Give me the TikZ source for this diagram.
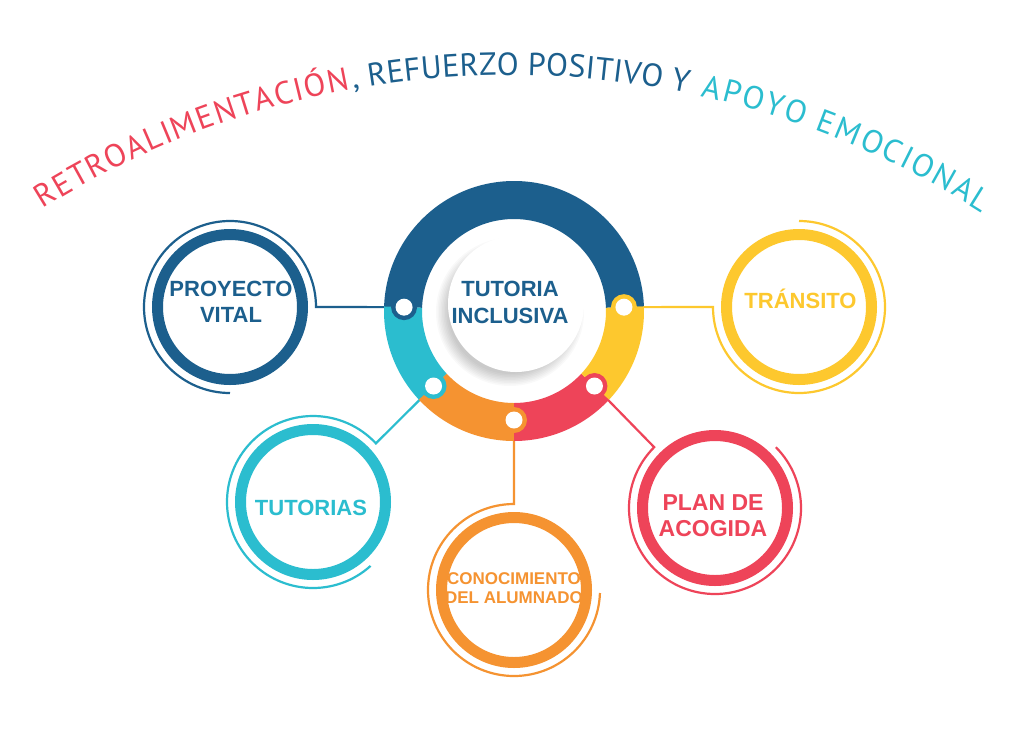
\documentclass[tikz,border=0pt]{standalone}
\usepackage{fontspec}
\setmainfont{Liberation Sans}
\newfontfamily\titlefont{PT Sans}
\newcommand\titlesize{\titlefont\fontsize{32}{32}\selectfont}
\usetikzlibrary{calc,decorations.text}
\definecolor{cblue}{HTML}{1C5F8D}
\definecolor{cteal}{HTML}{2BBDCF}
\definecolor{corange}{HTML}{F59331}
\definecolor{cred}{HTML}{EE4459}
\definecolor{cyellow}{HTML}{FDC82E}
\tikzset{
  satring/.style={circle, draw=#1, line width=11pt, minimum size=145pt, inner sep=0pt, fill=white},
  sattext/.style={text=#1, font=\bfseries\fontsize{22}{26}\selectfont, align=center, inner sep=0pt},
  link/.style={draw=#1, line width=2.2pt},
  knob/.style={circle, fill=#1, minimum size=26pt, inner sep=0pt},
  hole/.style={circle, fill=white, minimum size=17pt, inner sep=0pt},
  arctext/.style={decorate, decoration={text along path, text={|\titlesize|#1}, text align=fit to path}},
}
\begin{document}
\begin{tikzpicture}[x=1pt,y=1pt]
\fill[white] (0,0) rectangle (1023,-745);
\path[use as bounding box] (0,0) rectangle (1023,-745);

% coordinates
\coordinate (rc) at (514,-311);
\coordinate (tc) at (509,-955);
\coordinate (pv) at (230,-307);
\coordinate (tr) at (799,-307);
\coordinate (tu) at (313,-502);
\coordinate (co) at (514,-590);
\coordinate (pa) at (715,-508);
\coordinate (k1) at ($(rc)+(178:110)$);
\coordinate (k2) at ($(rc)+(223:110)$);
\coordinate (k3) at ($(rc)+(270:109)$);
\coordinate (k4) at ($(rc)+(317:110)$);
\coordinate (k5) at ($(rc)+(2:110)$);

% title along arc
\begin{scope}
\titlesize
\path[arctext={RETROALIMENTACIÓN}, decoration={text color=cred}] ($(tc)+(122:880)$) arc[start angle=122, end angle=100.4, radius=880];
\path[arctext={, REFUERZO POSITIVO Y}, decoration={text color=cblue}] ($(tc)+(100.2:880)$) arc[start angle=100.2, end angle=78.3, radius=880];
\path[arctext={APOYO EMOCIONAL}, decoration={text color=cteal}] ($(tc)+(77.4:880)$) arc[start angle=77.4, end angle=57.5, radius=880];
\end{scope}

% connectors with thin outer arcs
\draw[link=cblue] (k1) -- ($(pv)+(0:86)$) arc[start angle=0, end angle=270, radius=86];
\draw[link=cyellow] (k5) -- ($(tr)+(180:86)$) arc[start angle=180, end angle=450, radius=86];
\draw[link=cteal] (k2) -- ($(tu)+(43:86)$) arc[start angle=43, end angle=312, radius=86];
\draw[link=corange] (k3) -- ($(co)+(90:86)$) arc[start angle=90, end angle=358, radius=86];
\draw[link=cred] (k4) -- ($(pa)+(135:86)$) arc[start angle=135, end angle=405, radius=86];

% central ring
\begin{scope}[shift={(rc)}]
\fill[cblue] (2:130) arc[start angle=2, end angle=178, radius=130] -- (178:92) arc[start angle=178, end angle=2, radius=92] -- cycle;
\fill[cteal] (178:130) arc[start angle=178, end angle=223, radius=130] -- (223:92) arc[start angle=223, end angle=178, radius=92] -- cycle;
\fill[corange] (223:130) arc[start angle=223, end angle=270, radius=130] -- (270:92) arc[start angle=270, end angle=223, radius=92] -- cycle;
\fill[cred] (270:130) arc[start angle=270, end angle=317, radius=130] -- (317:92) arc[start angle=317, end angle=270, radius=92] -- cycle;
\fill[cyellow] (317:130) arc[start angle=317, end angle=362, radius=130] -- (362:92) arc[start angle=362, end angle=317, radius=92] -- cycle;
\end{scope}
\node[knob=cblue] (b1) at (k1) {};
\node[knob=cteal] (b2) at (k2) {};
\node[knob=corange] (b3) at (k3) {};
\node[knob=cred] (b4) at (k4) {};
\node[knob=cyellow] (b5) at (k5) {};
\node[hole] (h1) at (k1) {};
\node[hole] (h2) at (k2) {};
\node[hole] (h3) at (k3) {};
\node[hole] (h4) at (k4) {};
\node[hole] (h5) at (k5) {};

% inner disk with soft shadow
\foreach \r in {62,63.5,...,75}{\fill[black, opacity=0.022] (510,-312) circle (\r);}
\node[circle, fill=white, minimum size=136pt, inner sep=0pt] (hub) at (516,-304) {};
\node[sattext=cblue, font=\bfseries\fontsize{22}{27}\selectfont] (hubt) at (510,-302.6) {TUTORIA\\INCLUSIVA};

% satellites
\node[satring=cblue] (npv) at (pv) {};
\node[satring=cyellow] (ntr) at (tr) {};
\node[satring=cteal] (ntu) at (tu) {};
\node[satring=corange] (nco) at (co) {};
\node[satring=cred] (npa) at (pa) {};

\node[sattext=cblue] (tpv) at (231,-302.1) {PROYECTO\\VITAL};
\node[sattext=cyellow, anchor=base] (ttr) at (800.5,-308) {TRÁNSITO};
\node[sattext=cteal, anchor=base] (ttu) at (311,-515) {TUTORIAS};
\node[sattext=corange, font=\bfseries\fontsize{17}{19}\selectfont] (tco) at (514,-588.4) {CONOCIMIENTO\\DEL ALUMNADO};
\node[sattext=cred, font=\bfseries\fontsize{23}{26}\selectfont] (tpa) at (713,-515.7) {PLAN DE\\ACOGIDA};
\end{tikzpicture}
\end{document}
